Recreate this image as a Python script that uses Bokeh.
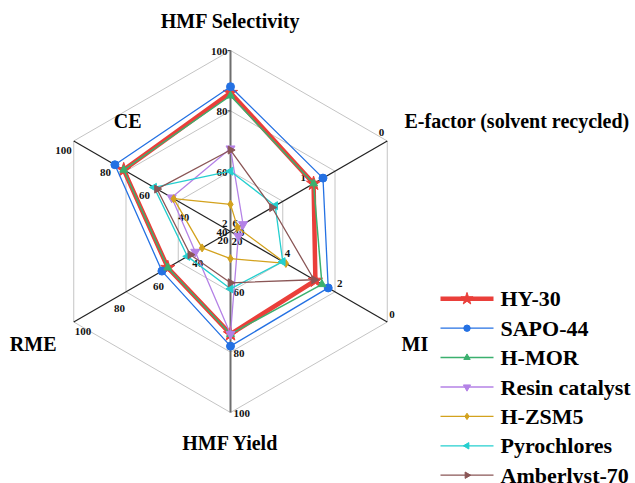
import math
from bokeh.plotting import figure
from bokeh.models import Range1d
from bokeh.core.properties import value
from bokeh.embed import file_html
from bokeh.resources import INLINE

# ---------------- data ----------------
axes_names = ["HMF Selectivity", "E-factor (solvent recycled)", "MI", "HMF Yield", "RME", "CE"]
axis_center = [40, 2, 6, 40, 20, 20]      # value at chart centre
axis_outer = [100, 0, 0, 100, 100, 100]   # value at outer ring
axis_ticks = [[40, 60, 80, 100], [2, 1, 0], [6, 4, 2, 0], [40, 60, 80, 100],
              [20, 40, 60, 80, 100], [20, 40, 60, 80, 100]]

series_names = ["HY-30", "SAPO-44", "H-MOR", "Resin catalyst", "H-ZSM5", "Pyrochlores", "Amberlyst-70"]
hy30 = [86, 0.94, 2.75, 74, 52, 74.5]
sapo44 = [88, 0.82, 2.26, 78, 55, 79]
hmor = [85, 0.94, 2.5, 74, 52, 74.5]
resin = [67.5, 1.84, 5.7, 74, 38, 50]
hzsm5 = [49, 1.91, 3.88, 49, 34.5, 49]
pyrochlores = [60, 1.43, 4.0, 59, 42, 59]
amberlyst70 = [67, 1.47, 2.8, 57, 40.5, 57.5]
series_values = [hy30, sapo44, hmor, resin, hzsm5, pyrochlores, amberlyst70]

# ---------------- style ----------------
colors = ["#EA3F3A", "#2471E3", "#3BB06E", "#B482E6", "#D3A21E", "#25CFCF", "#8A5656"]
markers = ["star", "circle", "triangle", "inverted_triangle", "diamond", "triangle", "triangle"]
marker_angles = [0, 0, 0, 0, 0, math.pi / 2, -math.pi / 2]
marker_sizes = [15, 8, 8, 9, 8, 8, 8]
line_widths = [4.5, 1.3, 1.5, 1.3, 1.3, 1.3, 1.3]

R = 181.0
angles_deg = [90, 30, -30, -90, -150, 150]
FONT = value("Liberation Serif")

p = figure(width=635, height=483, output_backend="svg", toolbar_location=None,
           x_axis_type=None, y_axis_type=None, min_border=0,
           x_range=Range1d(-230, 405), y_range=Range1d(-252, 231))
p.outline_line_color = None
p.xgrid.visible = False
p.ygrid.visible = False


def frac(i, v):
    return (v - axis_center[i]) / (axis_outer[i] - axis_center[i])


def pos(i, v):
    r = frac(i, v) * R
    a = math.radians(angles_deg[i])
    return r * math.cos(a), r * math.sin(a)


# grid hexagons
for k in (1, 2, 3):
    r = R * k / 3
    xs = [r * math.cos(math.radians(a)) for a in angles_deg] + [r * math.cos(math.radians(angles_deg[0]))]
    ys = [r * math.sin(math.radians(a)) for a in angles_deg] + [r * math.sin(math.radians(angles_deg[0]))]
    p.line(xs, ys, line_color="#C4C4C4", line_width=1)

# spokes
for i, a in enumerate(angles_deg):
    ex, ey = R * math.cos(math.radians(a)), R * math.sin(math.radians(a))
    if a in (90, -90):
        p.line([0, ex], [0, ey], line_color="#6E6E6E", line_width=2)
    else:
        p.line([0, ex], [0, ey], line_color="#222222", line_width=1.2)

# tick labels
offsets = [(-3, -1, "right"), (-3, 8.5, "right"), (2, 8, "left"),
           (3, -1, "left"), (1, -9.5, "left"), (-2, -9, "right")]
for i in range(6):
    dx, dy, al = offsets[i]
    tx, ty, tt = [], [], []
    for t in axis_ticks[i]:
        x, y = pos(i, t)
        tx.append(x + dx)
        ty.append(y + dy)
        tt.append(str(t))
    p.text(tx, ty, text=tt, text_font=FONT, text_font_style="bold", text_font_size="11px",
           text_align=al, text_baseline="middle", text_color="#111111")
    if i == 0:
        for t in axis_ticks[i][1:]:
            x, y = pos(i, t)
            p.line([x - 3, x], [y, y], line_color="#444444", line_width=1)

# series
for s in range(len(series_names)):
    pts = [pos(i, v) for i, v in enumerate(series_values[s])]
    xs = [q[0] for q in pts] + [pts[0][0]]
    ys = [q[1] for q in pts] + [pts[0][1]]
    p.line(xs, ys, line_color=colors[s], line_width=line_widths[s])
    p.scatter(xs[:-1], ys[:-1], marker=markers[s], size=marker_sizes[s], angle=marker_angles[s],
              fill_color=colors[s], line_color=colors[s])

# axis titles
title_pos = [(0, 211, "center"), (174, 111, "left"), (171, -112, "left"),
             (0, -211, "center"), (-174, -112, "right"), (-89, 111, "right")]
for i, name in enumerate(axes_names):
    x, y, al = title_pos[i]
    p.text([x], [y], text=[name], text_font=FONT, text_font_style="bold", text_font_size="20px",
           text_align=al, text_baseline="middle", text_color="#000000")

# legend (manual)
lx0, lx1, lmx, ltx = 210, 263, 236.5, 270
ly0, ldy = -67.3, -29.4
for s, name in enumerate(series_names):
    y = ly0 + s * ldy
    p.line([lx0, lx1], [y, y], line_color=colors[s], line_width=line_widths[s])
    p.scatter([lmx], [y], marker=markers[s], size=marker_sizes[s] * (0.85 if s == 0 else 0.8),
              angle=marker_angles[s], fill_color=colors[s], line_color=colors[s])
    p.text([ltx], [y], text=[name], text_font=FONT, text_font_style="bold", text_font_size="22px",
           text_align="left", text_baseline="middle", text_color="#000000")

open("out.html", "w").write(file_html(p, INLINE))
